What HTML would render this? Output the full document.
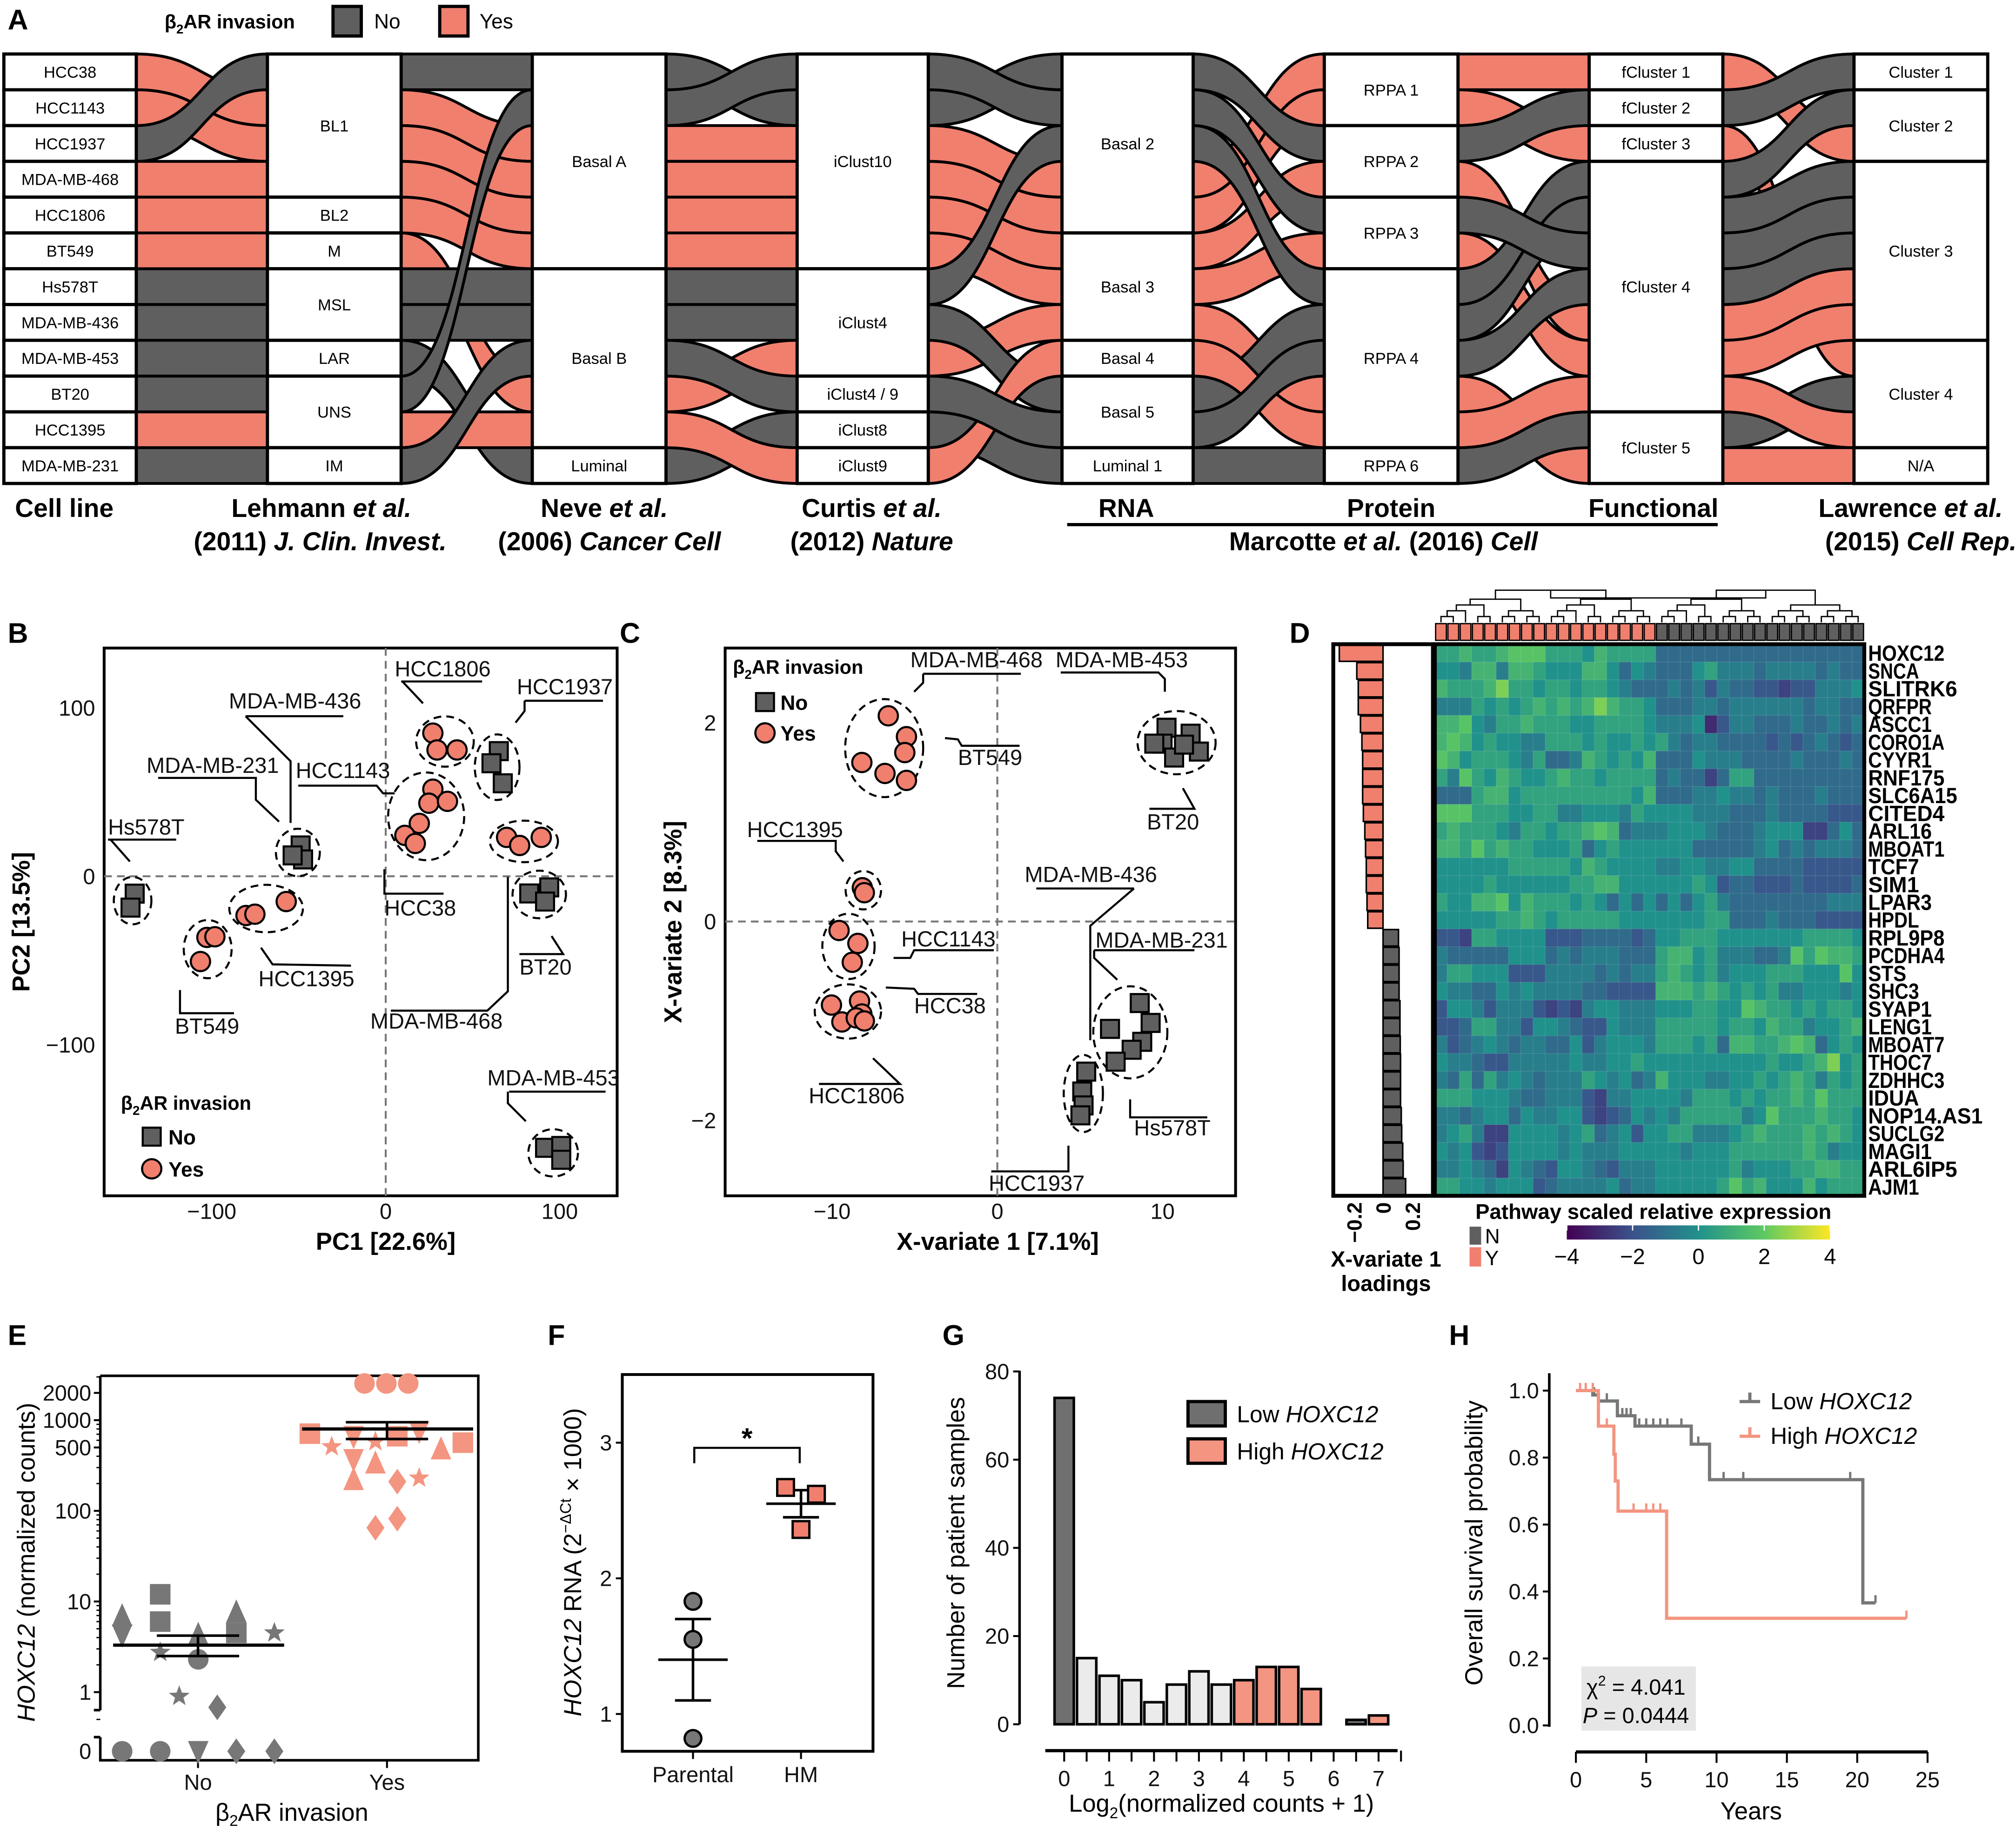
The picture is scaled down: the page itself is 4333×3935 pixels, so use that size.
<!DOCTYPE html>
<html><head><meta charset="utf-8">
<style>
html,body{margin:0;padding:0;background:#fff;}
svg{display:block;font-family:"Liberation Sans",Arial,sans-serif;}
.t{font-size:17px;fill:#111;}
.b{font-weight:bold;}
.lead{fill:none;stroke:#000;stroke-width:1.6;}
</style></head>
<body>
<svg id="fig" xmlns="http://www.w3.org/2000/svg" width="4333" height="3935" viewBox="0 0 1568 1424" preserveAspectRatio="none">
<rect x="0" y="0" width="1568" height="1424" fill="#fff"/>
<!-- Panel letters -->
<text x="6" y="23" font-size="22" class="b">A</text>
<text x="6" y="500" font-size="22" class="b">B</text>
<text x="482" y="500" font-size="22" class="b">C</text>
<text x="1003" y="500" font-size="22" class="b">D</text>
<text x="6" y="1046" font-size="22" class="b">E</text>
<text x="426" y="1046" font-size="22" class="b">F</text>
<text x="733" y="1046" font-size="22" class="b">G</text>
<text x="1127" y="1046" font-size="22" class="b">H</text>

<!-- Panel A legend -->
<g>
<text x="128" y="22" font-size="15" class="b">β<tspan font-size="10" dy="4">2</tspan><tspan dy="-4">AR invasion</tspan></text>
<rect x="259" y="5" width="22" height="23" fill="#5f5f5f" stroke="#000" stroke-width="2.5"/>
<text x="291" y="22" font-size="16">No</text>
<rect x="342" y="5" width="22" height="23" fill="#f07f6e" stroke="#000" stroke-width="2.5"/>
<text x="373" y="22" font-size="16">Yes</text>
</g>
<g id="sankey"></g>
<g font-size="20" font-weight="bold" text-anchor="middle">
<text x="50" y="402">Cell line</text>
<text x="250" y="402">Lehmann <tspan font-style="italic">et al.</tspan></text>
<text x="249" y="428">(2011) <tspan font-style="italic">J. Clin. Invest.</tspan></text>
<text x="470" y="402">Neve <tspan font-style="italic">et al.</tspan></text>
<text x="474" y="428">(2006) <tspan font-style="italic">Cancer Cell</tspan></text>
<text x="678" y="402">Curtis <tspan font-style="italic">et al.</tspan></text>
<text x="678" y="428">(2012) <tspan font-style="italic">Nature</tspan></text>
<text x="876" y="402">RNA</text>
<text x="1082" y="402">Protein</text>
<text x="1286" y="402">Functional</text>
<text x="1076" y="428">Marcotte <tspan font-style="italic">et al.</tspan> (2016) <tspan font-style="italic">Cell</tspan></text>
<text x="1486" y="402">Lawrence <tspan font-style="italic">et al.</tspan></text>
<text x="1494" y="428">(2015) <tspan font-style="italic">Cell Rep.</tspan></text>
</g>
<line x1="830" y1="408" x2="1336" y2="408" stroke="#000" stroke-width="2.5"/>

<!-- Panel B -->
<g id="pB"></g>
<!-- Panel C -->
<g id="pC"></g>
<!-- Panel D -->
<g id="pD"></g>
<!-- Panel E -->
<g id="pE"></g>
<!-- Panel F -->
<g id="pF"></g>
<!-- Panel G -->
<g id="pG"></g>
<!-- Panel H -->
<g id="pH"></g>
</svg>
<script>
const NS='http://www.w3.org/2000/svg';
const GREY='#5f5f5f', SAL='#f07f6e';
function mk(tag,attrs,parent){const e=document.createElementNS(NS,tag);for(const k in attrs)e.setAttribute(k,attrs[k]);parent.appendChild(e);return e;}
function txt(parent,x,y,s,attrs){const e=mk('text',Object.assign({x:x,y:y},attrs||{}),parent);e.textContent=s;return e;}

/* ================= PANEL A: SANKEY ================= */
const cellLines=['HCC38','HCC1143','HCC1937','MDA-MB-468','HCC1806','BT549','Hs578T','MDA-MB-436','MDA-MB-453','BT20','HCC1395','MDA-MB-231'];
const invasion=['Y','Y','N','Y','Y','Y','N','N','N','N','Y','N'];
const orderCell=[0,1,2,3,4,5,6,7,8,9,10,11];
const orderLehmann=[2,0,1,3,4,5,6,7,8,9,10,11];
const orderNeve=[2,9,0,1,3,4,6,7,11,5,10,8];
const orderCurtis=[9,2,0,1,3,4,6,7,5,11,8,10];
const orderRNA=[2,9,6,0,1,3,4,5,10,7,11,8];
const orderProtein=[0,1,2,3,9,4,6,7,11,5,10,8];
const orderFunctional=[0,2,1,6,7,9,11,3,4,10,8,5];
const orderLawrence=[2,6,0,7,9,11,3,4,1,8,10,5];
const catLehmann=[['BL1',4],['BL2',1],['M',1],['MSL',2],['LAR',1],['UNS',2],['IM',1]];
const catNeve=[['Basal A',6],['Basal B',5],['Luminal',1]];
const catCurtis=[['iClust10',6],['iClust4',3],['iClust4 / 9',1],['iClust8',1],['iClust9',1]];
const catRNA=[['Basal 2',5],['Basal 3',3],['Basal 4',1],['Basal 5',2],['Luminal 1',1]];
const catProtein=[['RPPA 1',2],['RPPA 2',2],['RPPA 3',2],['RPPA 4',5],['RPPA 6',1]];
const catFunctional=[['fCluster 1',1],['fCluster 2',1],['fCluster 3',1],['fCluster 4',7],['fCluster 5',2]];
const catLawrence=[['Cluster 1',1],['Cluster 2',2],['Cluster 3',5],['Cluster 4',3],['N/A',1]];
(function(){
  const g=document.getElementById('sankey');
  const cols=[[3,106],[208,312],[414,518],[620,722],[826,928],[1030,1134],[1236,1340],[1442,1546]];
  const orders=[orderCell,orderLehmann,orderNeve,orderCurtis,orderRNA,orderProtein,orderFunctional,orderLawrence];
  const cats=[cellLines.map(c=>[c,1]),catLehmann,catNeve,catCurtis,catRNA,catProtein,catFunctional,catLawrence];
  const top=42,h=(376-42)/12;
  for(let c=0;c<cols.length-1;c++){
    const xL=cols[c][1],xR=cols[c+1][0],xm=(xL+xR)/2;
    for(let line=0;line<12;line++){
      const a=orders[c].indexOf(line),b=orders[c+1].indexOf(line);
      const ya=top+a*h,yb=top+b*h;
      const d=`M${xL},${ya} C${xm},${ya} ${xm},${yb} ${xR},${yb} L${xR},${yb+h} C${xm},${yb+h} ${xm},${ya+h} ${xL},${ya+h} Z`;
      const p=mk('path',{d:d,fill:invasion[line]==='Y'?SAL:GREY,stroke:'#000','stroke-width':2.2,'stroke-linejoin':'round'},g);
      
      
    }
  }
  for(let c=0;c<cols.length;c++){
    let s=0;
    for(const [lab,n] of cats[c]){
      const y=top+s*h;
      const r=mk('rect',{x:cols[c][0],y:y,width:cols[c][1]-cols[c][0],height:n*h,fill:'#fff',stroke:'#000','stroke-width':2.5},g);
      
      
      const t=txt(g,(cols[c][0]+cols[c][1])/2,y+n*h/2+4.5,lab,{'font-size':12.5,'text-anchor':'middle'});
      
      
      s+=n;
    }
  }
})();

/* ================= PANEL B: PCA ================= */
const pcaClusters=['Hs578T','MDA-MB-436/231','HCC1937','BT20','MDA-MB-453','HCC1806','HCC38','MDA-MB-468','HCC1395','BT549'];
const pcaClusterGroup=['N','N','N','N','N','Y','Y','Y','Y','Y'];
const pcaX=[[-144.3,-146.7],[-48.9,-47.5,-53.5],[65,60.8,67.3],[82.5,94,91.6],[91.6,100.9,100.9],[27.1,29.5,41],[27.1,24.8,35.5,19.3,11,17],[69.5,77,89.4],[-57.2,-80.3,-75.2],[-102.8,-98.2,-106.5]];
const pcaY=[[-10.3,-18.6],[18.3,10.0,12.4],[74.3,67.1,55.2],[-10.2,-6.6,-15],[-161.2,-160.1,-168.3],[85,75,75],[51.7,43.4,44.5,31.4,24.3,19.5],[23.1,18.3,23.1],[-15,-23.3,-22.5],[-36.3,-35.9,-50.6]];
const pcaXTicks=[-100,0,100], pcaYTicks=[100,0,-100];

const plsClusters=['BT549','MDA-MB-453','HCC1395','HCC1143','HCC38/HCC1806','MDA-MB-231/436','HCC1937'];
const plsClusterGroup=['Y','N','Y','Y','Y','N','N'];
const plsX=[[-6.6,-5.5,-5.6,-8.2,-6.8,-5.5],[10.24,10,11.7,12.2,10.7,11.3,9.5],[-8.17,-8.05],[-9.58,-8.44,-8.78],[-10.04,-8.34,-8.2,-9.41,-8.54,-8.05],[8.62,9.28,6.82,8.77,8.13,7.16],[5.38,5.14,5.22,5.03]];
const plsY=[[2.07,1.86,1.70,1.60,1.49,1.42],[1.95,1.79,1.89,1.71,1.65,1.78,1.79],[0.34,0.29],[-0.09,-0.22,-0.41],[-0.84,-0.80,-0.93,-1.01,-0.97,-1.0],[-0.82,-1.02,-1.08,-1.21,-1.29,-1.41],[-1.51,-1.71,-1.85,-1.95]];
const plsXTicks=[-10,0,10], plsYTicks=[2,0,-2];

function scatterPanel(g,opt){
  const sx=v=>opt.x0+v*opt.kx, sy=v=>opt.y0-v*opt.ky;
  const fr=mk('rect',{x:opt.box[0],y:opt.box[1],width:opt.box[2]-opt.box[0],height:opt.box[3]-opt.box[1],fill:'none',stroke:'#000','stroke-width':2.2},g);
  
  const vx=mk('line',{x1:sx(0),x2:sx(0),y1:opt.box[1],y2:opt.box[3],stroke:'#777','stroke-width':1.5,'stroke-dasharray':'6,4'},g);
  
  const hy=mk('line',{x1:opt.box[0],x2:opt.box[2],y1:sy(0),y2:sy(0),stroke:'#777','stroke-width':1.5,'stroke-dasharray':'6,4'},g);
  
  opt.xt.forEach(v=>{const t=txt(g,sx(v),948,(v<0?'\u2212':'')+Math.abs(v),{class:'t','font-size':18,'text-anchor':'middle'});});
  opt.yt.forEach(v=>{const t=txt(g,opt.box[0]-7,sy(v)+6,(v<0?'\u2212':'')+Math.abs(v),{class:'t','font-size':18,'text-anchor':'end'});});
  opt.clusters.forEach((name,i)=>{
    const xs=opt.X[i].map(sx),ys=opt.Y[i].map(sy);
    const cx=(Math.min(...xs)+Math.max(...xs))/2,cy=(Math.min(...ys)+Math.max(...ys))/2;
    const rx=(Math.max(...xs)-Math.min(...xs))/2+13,ry=(Math.max(...ys)-Math.min(...ys))/2+13;
    const el=mk('ellipse',{cx:cx,cy:cy,rx:rx,ry:ry,fill:'none',stroke:'#000','stroke-width':1.6,'stroke-dasharray':'6,4'},g);
    
    xs.forEach((x,j)=>{
      let m;
      if(opt.grp[i]==='Y') m=mk('circle',{cx:x,cy:ys[j],r:7.5,fill:SAL,stroke:'#000','stroke-width':1.6},g);
      else m=mk('rect',{x:x-7,y:ys[j]-7,width:14,height:14,fill:GREY,stroke:'#000','stroke-width':1.6},g);
      
    });
  });
  opt.labels.forEach(L=>{
    const t=txt(g,L[0],L[1],L[2],{class:'t','font-size':15.5});
    L[3].forEach(pts=>{const p=mk('polyline',{points:pts,class:'lead'},g);});
  });
}
scatterPanel(document.getElementById('pB'),{box:[81,504,480,930],x0:300,kx:1.353,y0:681.5,ky:1.31,xt:pcaXTicks,yt:pcaYTicks,
  clusters:pcaClusters,grp:pcaClusterGroup,X:pcaX,Y:pcaY,
  labels:[[84,649,'Hs578T',['84,653 137,653','86,653 101,670']],
  [114,601,'MDA-MB-231',['123,605 199,605 199,622 217,639']],
  [178,551,'MDA-MB-436',['191,557 267,557','191,557 226,592 226,640']],
  [230,605,'HCC1143',['232,611 293,611 298,617 307,617']],
  [307,526,'HCC1806',['312,530 375,530','313,530 329,547']],
  [402,540,'HCC1937',['408,545 469,545','408,545 408,553 401,562']],
  [299,712,'HCC38',['299,676 299,695 345,695']],
  [201,767,'HCC1395',['203,737 212,750 273,751']],
  [136,804,'BT549',['140,770 140,788 182,788']],
  [288,800,'MDA-MB-468',['304,786 379,786 395,771 395,682']],
  [404,758,'BT20',['404,742 438,742 429,728']],
  [379,844,'MDA-MB-453',['396,849 471,849','395,849 395,858 409,872']]]});
scatterPanel(document.getElementById('pC'),{box:[564,504,961,930],x0:775.7,kx:12.85,y0:716.7,ky:77.3,xt:plsXTicks,yt:plsYTicks,
  clusters:plsClusters,grp:plsClusterGroup,X:plsX,Y:plsY,
  labels:[[708,519,'MDA-MB-468',['718,524 794,524','718,524 718,531 711,538']],
  [821,519,'MDA-MB-453',['825,523 901,523 906,528 906,538']],
  [745,595,'BT549',['735,574 745,575 748,580 793,580']],
  [892,645,'BT20',['920,613 929,629 894,629']],
  [581,651,'HCC1395',['589,654 650,654 650,662 656,670']],
  [797,686,'MDA-MB-436',['806,691 882,691','882,691 848,720 848,809']],
  [701,736,'HCC1143',['695,745 708,745 711,739 773,739']],
  [852,737,'MDA-MB-231',['851,739 929,739','851,739 851,745 869,762']],
  [711,788,'HCC38',['689,768 711,769 714,773 760,773']],
  [629,858,'HCC1806',['679,823 700,843 637,843']],
  [882,883,'Hs578T',['879,855 879,869 939,869']],
  [769,926,'HCC1937',['831,891 831,911 771,911']]]});
(function(){
  const gb=document.getElementById('pB'), gc=document.getElementById('pC');
  let t;
  t=txt(gb,300,972,'PC1 [22.6%]',{'font-size':19,'font-weight':'bold','text-anchor':'middle'});
  t=txt(gb,0,0,'PC2 [13.5%]',{'font-size':19,'font-weight':'bold','text-anchor':'middle',transform:'translate(23,717) rotate(-90)'});
  t=txt(gc,776,972,'X-variate 1 [7.1%]',{'font-size':19,'font-weight':'bold','text-anchor':'middle'});
  t=txt(gc,0,0,'X-variate 2 [8.3%]',{'font-size':19,'font-weight':'bold','text-anchor':'middle',transform:'translate(530,717) rotate(-90)'});
  [[gb,94,863,118,884,909,131],[gc,570,524,595,546,570,607]].forEach(a=>{
    const g=a[0];
    const tt=mk('text',{x:a[1],y:a[2],'font-size':15,'font-weight':'bold'},g);tt.innerHTML='β<tspan font-size="10" dy="4">2</tspan><tspan dy="-4">AR invasion</tspan>';
    
    const s=mk('rect',{x:a[3]-7,y:a[4]-7,width:14,height:14,fill:GREY,stroke:'#000','stroke-width':1.6},g);
    const c=mk('circle',{cx:a[3],cy:a[5],r:7.5,fill:SAL,stroke:'#000','stroke-width':1.6},g);
    let l=txt(g,a[6],a[4]+6,'No',{'font-size':16,'font-weight':'bold'});
    l=txt(g,a[6],a[5]+6,'Yes',{'font-size':16,'font-weight':'bold'});
  });
})();

/* ================= PANEL D: HEATMAP ================= */
const genes=['HOXC12','SNCA','SLITRK6','QRFPR','ASCC1','CORO1A','CYYR1','RNF175','SLC6A15','CITED4','ARL16','MBOAT1','TCF7','SIM1','LPAR3','HPDL','RPL9P8','PCDHA4','STS','SHC3','SYAP1','LENG1','MBOAT7','THOC7','ZDHHC3','IDUA','NOP14.AS1','SUCLG2','MAGI1','ARL6IP5','AJM1'];
const loadings=[-0.30,-0.18,-0.17,-0.17,-0.155,-0.145,-0.14,-0.14,-0.14,-0.135,-0.125,-0.12,-0.115,-0.115,-0.11,-0.105,0.106,0.11,0.11,0.11,0.116,0.116,0.118,0.12,0.12,0.12,0.125,0.128,0.135,0.138,0.155];
const sampleGroup='YYYYYYYYYYYYYYYYYYNNNNNNNNNNNNNNNNN'.split('');
// expression level codes per gene (digit d -> value (d-5)*0.6)
const exprCodes=[
'667667888666576666'+'33333333333333333',
'554774776555775354'+'33356444344443433',
'766679665665665433'+'34342433221224445',
'444656567676797665'+'33344344444434433',
'778546676665566665'+'44450244333433434',
'787565544666565565'+'64344333323234323',
'875666546334765657'+'33354443333433343',
'648657655676656666'+'34331366333333333',
'333677566666666657'+'33344544343334333',
'888666556644555465'+'55544433343333222',
'676665466566787344'+'45554333455511353',
'776867665556356555'+'55533333453434443',
'555555666665765555'+'44554455333322222',
'555565555556677555'+'55565233222322223',
'655778576665653535'+'35356433333333444',
'555556676566666555'+'55556633343332222',
'221665555222333323'+'55666555555566665',
'433333555343444333'+'67756444334868776',
'466555222444434344'+'67656455566655585',
'544335454444332222'+'77767656564455545',
'255424442121455444'+'55566558766565665',
'223664425543225444'+'66666566576645567',
'423454344335245554'+'66656377667873565',
'544322444445445565'+'55555555565567956',
'436364543444654534'+'75554455656764656',
'666555433444214455'+'55466656566768666',
'443455354455212354'+'54666664586667665',
'456411555545634525'+'56644456766676765',
'545212555545444555'+'55455566666676455',
'445431543255432444'+'55555564555667766',
'665545552344445344'+'55555686755575666'];
const colorbarTicks=[-4,-2,0,2,4];
function viridis(v){
  const st=[[68,1,84],[59,82,139],[33,145,140],[94,201,98],[253,231,37]];
  let t=Math.max(0,Math.min(1,(v+4)/8))*4;const i=Math.min(3,Math.floor(t)),f=t-i;
  const c=st[i].map((a,k)=>Math.round(a+(st[i+1][k]-a)*f));return `rgb(${c[0]},${c[1]},${c[2]})`;
}
(function(){
  const g=document.getElementById('pD');
  const hx0=1116,hx1=1450,hy0=501,hy1=930;
  const nc=sampleGroup.length,nr=genes.length,cw=(hx1-hx0)/nc,ch=(hy1-hy0)/nr;
  for(let r=0;r<nr;r++)for(let c=0;c<nc;c++){
    const v=(parseInt(exprCodes[r][c])-5)*0.6;
    const e=mk('rect',{x:hx0+c*cw,y:hy0+r*ch,width:cw+0.3,height:ch+0.3,fill:viridis(v),stroke:'rgba(255,255,255,0.15)','stroke-width':0.4},g);
    
    
  }
  const fr=mk('rect',{x:hx0,y:hy0,width:hx1-hx0,height:hy1-hy0,fill:'none',stroke:'#000','stroke-width':3},g);
  
  sampleGroup.forEach((s,c)=>{
    const e=mk('rect',{x:hx0+c*cw+0.6,y:485,width:cw-1.2,height:13,fill:s==='Y'?SAL:GREY,stroke:'#000','stroke-width':1},g);
    
  });
  function tree(a,b){
    if(a===b)return {x:hx0+(a+0.5)*cw,y:484};
    const m=Math.floor((a+b)/2),L=tree(a,m),R=tree(m+1,b);
    const y=Math.min(L.y,R.y)-(b-a>12?7:4.5);
    const p=mk('polyline',{points:`${L.x},${L.y} ${L.x},${y} ${R.x},${y} ${R.x},${R.y}`,fill:'none',stroke:'#000','stroke-width':1},g);
    
    return {x:(L.x+R.x)/2,y:y};
  }
  const A=tree(0,17),B=tree(18,nc-1);
  const rootY=465;
  const p=mk('polyline',{points:`${A.x},${A.y} ${A.x},${rootY} ${B.x},${rootY} ${B.x},${B.y}`,fill:'none',stroke:'#000','stroke-width':1},g);
  
  genes.forEach((gn,r)=>{const t=txt(g,1453,hy0+(r+0.5)*ch+6,gn,{'font-size':17,'font-weight':'bold',textLength:gn.length*9.9,lengthAdjust:'spacingAndGlyphs'});});
  // loadings
  const lx=v=>1075.7+v*113.4;
  loadings.forEach((v,r)=>{
    const e=mk('rect',{x:Math.min(lx(0),lx(v)),y:hy0+r*ch+0.5,width:Math.abs(lx(v)-lx(0)),height:ch-1,fill:v<0?SAL:GREY,stroke:'#000','stroke-width':1.2},g);
    
  });
  const lf=mk('rect',{x:1037,y:hy0,width:77.5,height:hy1-hy0,fill:'none',stroke:'#000','stroke-width':3},g);
  
  [-0.2,0,0.2].forEach(v=>{const t=txt(g,0,0,(v<0?'\u2212':'')+Math.abs(v),{'font-size':16,'font-weight':'bold','text-anchor':'end',transform:`translate(${lx(v)+6},935) rotate(-90)`});});
  let t=txt(g,1078,985,'X-variate 1',{'font-size':17,'font-weight':'bold','text-anchor':'middle'});
  t=txt(g,1078,1004,'loadings',{'font-size':17,'font-weight':'bold','text-anchor':'middle'});
  // colorbar
  const cbx=v=>1321+v*25.6;
  const defs=mk('defs',{},g);const lg=mk('linearGradient',{id:'vir',x1:0,x2:1,y1:0,y2:0},defs);
  for(let i=0;i<=8;i++){mk('stop',{offset:i/8,'stop-color':viridis(-4+i)},lg);}
  const cb=mk('rect',{x:cbx(-4),y:953,width:cbx(4)-cbx(-4),height:11,fill:'url(#vir)'},g);
  colorbarTicks.forEach(v=>{
    const l=mk('line',{x1:cbx(v),x2:cbx(v),y1:953,y2:957,stroke:'#fff','stroke-width':1},g);
    const tt=txt(g,cbx(v),983,(v<0?'\u2212':'')+Math.abs(v),{'font-size':17,'text-anchor':'middle'});
  });
  t=txt(g,1286,948,'Pathway scaled relative expression',{'font-size':16.5,'font-weight':'bold','text-anchor':'middle'});
  let s=mk('rect',{x:1143,y:954,width:9,height:14,fill:GREY},g);
  s=mk('rect',{x:1143,y:970,width:9,height:15,fill:SAL},g);
  t=txt(g,1155,967,'N',{'font-size':16});
  t=txt(g,1155,984,'Y',{'font-size':16});
})();

/* ================= PANEL E ================= */
const eGroups=['No','Yes'];
const eGroup=['No','No','No','No','No','No','No','No','No','No','No','No','No','No','No','No','No','Yes','Yes','Yes','Yes','Yes','Yes','Yes','Yes','Yes','Yes','Yes','Yes','Yes','Yes','Yes','Yes','Yes','Yes'];
const eShape=['tri','invtri','sq','sq','star','tri','circ','star','dia','tri','sq','star','circ','circ','invtri','dia','dia','circ','circ','circ','sq','star','invtri','invtri','tri','star','tri','sq','dia','invtri','star','tri','sq','dia','dia'];
const eLane=[0,0,1,1,1,2,2,1.5,2.5,3,3,4,0,1,2,3,4,2.5,3.5,4.5,0,1,2,2,2,3,3,4,4,5,5,6,7,3,4];
const eValue=[6.9,4.3,12,6.0,2.75,4.3,2.3,0.9,0.68,7.6,4.5,4.5,0,0,0,0,0,2540,2540,2540,710,510,665,370,220,580,335,665,210,755,230,480,565,65,82];
const eMean=[3.3,800], eSemLo=[2.5,620], eSemHi=[4.2,950];
const eTicks=[2000,1000,500,100,10,1];
(function(){
  const g=document.getElementById('pE');
  const yv=v=>v===0?1362:1316-Math.log10(v)*70.5;
  const gx={No:[95,29.6],Yes:[241,17]};
  const axes=[['polyline',{points:'78,1070 78,1330',fill:'none',stroke:'#000','stroke-width':2}],['polyline',{points:'78,1351 78,1369 372,1369 372,1070 78,1070',fill:'none',stroke:'#000','stroke-width':2}],['line',{x1:73,x2:78,y1:1330,y2:1330,stroke:'#000','stroke-width':2}],['line',{x1:73,x2:78,y1:1351,y2:1351,stroke:'#000','stroke-width':2}]];
  axes.forEach(a=>{const e=mk(a[0],a[1],g);});
  eTicks.forEach(v=>{
    const l=mk('line',{x1:73,x2:78,y1:yv(v),y2:yv(v),stroke:'#000','stroke-width':1.5},g);
    const t=txt(g,71,yv(v)+6,String(v),{class:'t','font-size':18,'text-anchor':'end'});
  });
  for(let d=0;d<4;d++)for(let k=2;k<10;k++){const y=1316-(d+Math.log10(k))*70.5;if(y<1070)continue;const l=mk('line',{x1:75,x2:78,y1:y,y2:y,stroke:'#000','stroke-width':1},g);}
  {const l=mk('line',{x1:75,x2:78,y1:1316+70.5*Math.log10(2),y2:1316+70.5*Math.log10(2),stroke:'#000','stroke-width':1},g);}
  let t=txt(g,71,1368,'0',{class:'t','font-size':18,'text-anchor':'end'});
  const gc={No:154,Yes:301};
  eGroups.forEach(gr=>{
    const l=mk('line',{x1:gc[gr],x2:gc[gr],y1:1369,y2:1375,stroke:'#000','stroke-width':1.5},g);
    const tt=txt(g,gc[gr],1392,gr,{class:'t','font-size':18,'text-anchor':'middle'});
  });
  eValue.forEach((v,i)=>{
    const x=gx[eGroup[i]][0]+eLane[i]*gx[eGroup[i]][1],y=yv(v),col=eGroup[i]==='Yes'?'#f39580':'#777',r=8;
    let m;
    if(eShape[i]==='circ')m=mk('circle',{cx:x,cy:y,r:r},g);
    else if(eShape[i]==='sq')m=mk('rect',{x:x-r,y:y-r,width:2*r,height:2*r},g);
    else if(eShape[i]==='tri')m=mk('polygon',{points:`${x},${y-r-2} ${x+r},${y+r} ${x-r},${y+r}`},g);
    else if(eShape[i]==='invtri')m=mk('polygon',{points:`${x},${y+r+2} ${x+r},${y-r} ${x-r},${y-r}`},g);
    else if(eShape[i]==='dia')m=mk('polygon',{points:`${x},${y-r-2} ${x+r-1},${y} ${x},${y+r+2} ${x-r+1},${y}`},g);
    else{let p=[];for(let k=0;k<10;k++){const a=-Math.PI/2+k*Math.PI/5,rr=k%2?3.5:8.5;p.push((x+rr*Math.cos(a)).toFixed(1)+','+(y+rr*Math.sin(a)).toFixed(1));}m=mk('polygon',{points:p.join(' ')},g);}
    m.setAttribute('fill',col);
    
    
  });
  const half={No:[88,221],Yes:[235,368]};
  eGroups.forEach((gr,i)=>{
    const c=gc[gr];
    const m=mk('line',{x1:half[gr][0],x2:half[gr][1],y1:yv(eMean[i]),y2:yv(eMean[i]),stroke:'#000','stroke-width':2.5},g);
    const e=mk('path',{d:`M${c},${yv(eSemLo[i])}V${yv(eSemHi[i])}M${c-32},${yv(eSemLo[i])}H${c+32}M${c-32},${yv(eSemHi[i])}H${c+32}`,stroke:'#000','stroke-width':2,fill:'none'},g);
  });
  t=mk('text',{transform:'translate(27,1215) rotate(-90)','text-anchor':'middle','font-size':19},g);t.innerHTML='<tspan font-style="italic">HOXC12</tspan> (normalized counts)';
  t=mk('text',{x:227,y:1416,'text-anchor':'middle','font-size':19},g);t.innerHTML='β<tspan font-size="12" dy="4">2</tspan><tspan dy="-4">AR invasion</tspan>';
})();

/* ================= PANEL F ================= */
const fGroups=['Parental','HM'];
const fParental=[1.83,1.55,0.82];
const fHM=[2.67,2.62,2.36];
const fMean=[1.40,2.55], fSem=[0.30,0.10];
const fTicks=[1,2,3];
(function(){
  const g=document.getElementById('pF');
  const y=v=>1333-(v-1)*105.5, gx=[539,623];
  const fr=mk('rect',{x:484,y:1069,width:195,height:293,fill:'none',stroke:'#000','stroke-width':2.2},g);
  fTicks.forEach(v=>{
    const l=mk('line',{x1:479,x2:484,y1:y(v),y2:y(v),stroke:'#000','stroke-width':1.5},g);
    const t=txt(g,476,y(v)+6,String(v),{class:'t','font-size':18,'text-anchor':'end'});
  });
  fGroups.forEach((gr,i)=>{
    const l=mk('line',{x1:gx[i],x2:gx[i],y1:1362,y2:1368,stroke:'#000','stroke-width':1.5},g);
    const t=txt(g,gx[i],1386,gr,{class:'t','font-size':18,'text-anchor':'middle'});
    const m=mk('path',{d:`M${gx[i]-27},${y(fMean[i])}H${gx[i]+27}M${gx[i]},${y(fMean[i]-fSem[i])}V${y(fMean[i]+fSem[i])}M${gx[i]-14},${y(fMean[i]-fSem[i])}H${gx[i]+14}M${gx[i]-14},${y(fMean[i]+fSem[i])}H${gx[i]+14}`,stroke:'#000','stroke-width':2,fill:'none'},g);
    
  });
  fParental.forEach(v=>{const c=mk('circle',{cx:gx[0],cy:y(v),r:6.5,fill:'#777',stroke:'#000','stroke-width':1.8},g);});
  const off=[-12,12,0];
  fHM.forEach((v,i)=>{const r=mk('rect',{x:gx[1]+off[i]-6.5,y:y(v)-6.5,width:13,height:13,fill:SAL,stroke:'#000','stroke-width':1.8},g);});
  const br=mk('polyline',{points:'540,1138 540,1126 622,1126 622,1138',fill:'none',stroke:'#000','stroke-width':1.6},g);
  let t=txt(g,581,1126,'*',{'font-size':22,'font-weight':'bold','text-anchor':'middle'});
  t=mk('text',{transform:'translate(452,1215) rotate(-90)','text-anchor':'middle','font-size':19},g);t.innerHTML='<tspan font-style="italic">HOXC12</tspan> RNA (2<tspan font-size="12" dy="-8">\u2212\u0394Ct</tspan><tspan dy="8"> \u00d7 1000)</tspan>';
  
})();

/* ================= PANEL G ================= */
const gBins=[0,0.5,1,1.5,2,2.5,3,3.5,4,4.5,5,5.5,6.5,7];
const gCounts=[74,15,11,10,5,9,12,9,10,13,13,8,1,2];
const gClass=['low','mid','mid','mid','mid','mid','mid','mid','high','high','high','high','low','high'];
const gYTicks=[0,20,40,60,80], gXTicks=[0,1,2,3,4,5,6,7];
(function(){
  const g=document.getElementById('pG');
  const x=v=>827.7+v*34.93, y=v=>1341-v*3.43;
  const ya=mk('line',{x1:793,x2:793,y1:1066,y2:1341,stroke:'#000','stroke-width':2},g);
  const xa=mk('line',{x1:813,x2:1087,y1:1361.5,y2:1361.5,stroke:'#000','stroke-width':2.5},g);
  gYTicks.forEach(v=>{
    const l=mk('line',{x1:788,x2:793,y1:y(v),y2:y(v),stroke:'#000','stroke-width':1.5},g);
    const t=txt(g,785,y(v)+6,String(v),{class:'t','font-size':18,'text-anchor':'end'});
  });
  for(let v=0;v<=7.5;v+=0.5){const l=mk('line',{x1:x(v),x2:x(v),y1:1361.5,y2:1370,stroke:'#000','stroke-width':1.5},g);}
  gXTicks.forEach(v=>{const t=txt(g,x(v),1389,String(v),{class:'t','font-size':18,'text-anchor':'middle'});});
  const fills={low:'#6f6f6f',mid:'#ebebeb',high:'#f39580'};
  gBins.forEach((b,i)=>{
    const r=mk('rect',{x:x(b)-7.5,y:y(gCounts[i]),width:15,height:y(0)-y(gCounts[i]),fill:fills[gClass[i]],stroke:'#000','stroke-width':2},g);
    
  });
  let s=mk('rect',{x:924,y:1090,width:29,height:19,fill:'#6f6f6f',stroke:'#000','stroke-width':2.5},g);
  s=mk('rect',{x:924,y:1119,width:29,height:19,fill:'#f39580',stroke:'#000','stroke-width':2.5},g);
  let t=mk('text',{x:962,y:1106,'font-size':18},g);t.innerHTML='Low <tspan font-style="italic">HOXC12</tspan>';
  t=mk('text',{x:962,y:1135,'font-size':18},g);t.innerHTML='High <tspan font-style="italic">HOXC12</tspan>';
  t=mk('text',{x:950,y:1409,'font-size':19,'text-anchor':'middle'},g);t.innerHTML='Log<tspan font-size="12" dy="5">2</tspan><tspan dy="-5">(normalized counts + 1)</tspan>';
  t=txt(g,0,0,'Number of patient samples',{'font-size':19,'text-anchor':'middle',transform:'translate(750,1200) rotate(-90)'});
})();

/* ================= PANEL H ================= */
const lowTimes=[0,1.2,1.6,2.95,4.2,8.2,9.5,20.4,21.3];
const lowSurv=[1,0.987,0.969,0.925,0.894,0.84,0.734,0.366,0.366];
const lowCensor=[1.3,2.2,3.3,3.6,3.9,4.5,5,5.5,6,6.5,7.5,8.7,10.5,11.9,19.5,21.3];
const highTimes=[0,1.6,2.7,2.8,3.0,6.45,23.5];
const highSurv=[1,0.894,0.81,0.73,0.64,0.32,0.32];
const highCensor=[0.3,0.7,1.2,2.2,4.1,5,5.5,6,23.5];
const hXTicks=[0,5,10,15,20,25], hYTicks=[0,0.2,0.4,0.6,0.8,1.0];
(function(){
  const g=document.getElementById('pH');
  const x=v=>1225.7+v*10.94, y=v=>1341.9-v*260.4;
  const ya=mk('line',{x1:1205,x2:1205,y1:1068,y2:1343,stroke:'#000','stroke-width':2},g);
  const xa=mk('line',{x1:1225.7,x2:1499.3,y1:1362.5,y2:1362.5,stroke:'#000','stroke-width':2.5},g);
  hYTicks.forEach(v=>{
    const l=mk('line',{x1:1200,x2:1205,y1:y(v),y2:y(v),stroke:'#000','stroke-width':1.5},g);
    const t=txt(g,1197,y(v)+6,v.toFixed(1),{class:'t','font-size':18,'text-anchor':'end'});
  });
  hXTicks.forEach(v=>{
    const l=mk('line',{x1:x(v),x2:x(v),y1:1362.5,y2:1371,stroke:'#000','stroke-width':1.5},g);
    const t=txt(g,x(v),1390,String(v),{class:'t','font-size':18,'text-anchor':'middle'});
  });
  const sb=mk('rect',{x:1230,y:1296,width:89,height:50,fill:'#e6e6e6'},g);
  let t=mk('text',{x:1234,y:1318,'font-size':17},g);t.innerHTML='\u03c7<tspan font-size="11" dy="-7">2</tspan><tspan dy="7"> = 4.041</tspan>';
  t=mk('text',{x:1231,y:1340,'font-size':17},g);t.innerHTML='<tspan font-style="italic">P</tspan> = 0.0444';
  function km(times,surv,censor,col,name){
    let d=`M${x(times[0])},${y(surv[0])}`;
    for(let i=1;i<times.length;i++){d+=`H${x(times[i])}V${y(surv[i])}`;}
    const p=mk('path',{d:d,fill:'none',stroke:col,'stroke-width':2.5},g);
    censor.forEach(c=>{let s=surv[0];for(let i=0;i<times.length;i++)if(times[i]<=c)s=surv[i];
      const l=mk('line',{x1:x(c),x2:x(c),y1:y(s)-6,y2:y(s),stroke:col,'stroke-width':1.8},g);});
  }
  km(lowTimes,lowSurv,lowCensor,'#777','low');
  km(highTimes,highSurv,highCensor,'#f39580','high');
  [[1090,'#777','Low','low'],[1117,'#f39580','High','high']].forEach(a=>{
    const l=mk('path',{d:`M1353,${a[0]}H1369M1361,${a[0]}V${a[0]-7}`,stroke:a[1],'stroke-width':2.5,fill:'none'},g);
    const tt=mk('text',{x:1377,y:a[0]+6,'font-size':18},g);tt.innerHTML=a[2]+' <tspan font-style="italic">HOXC12</tspan>';
  });
  t=txt(g,1362,1415,'Years',{'font-size':19,'text-anchor':'middle'});
  t=txt(g,0,0,'Overall survival probability',{'font-size':19,'text-anchor':'middle',transform:'translate(1153,1200) rotate(-90)'});
})();
</script>
</body></html>
